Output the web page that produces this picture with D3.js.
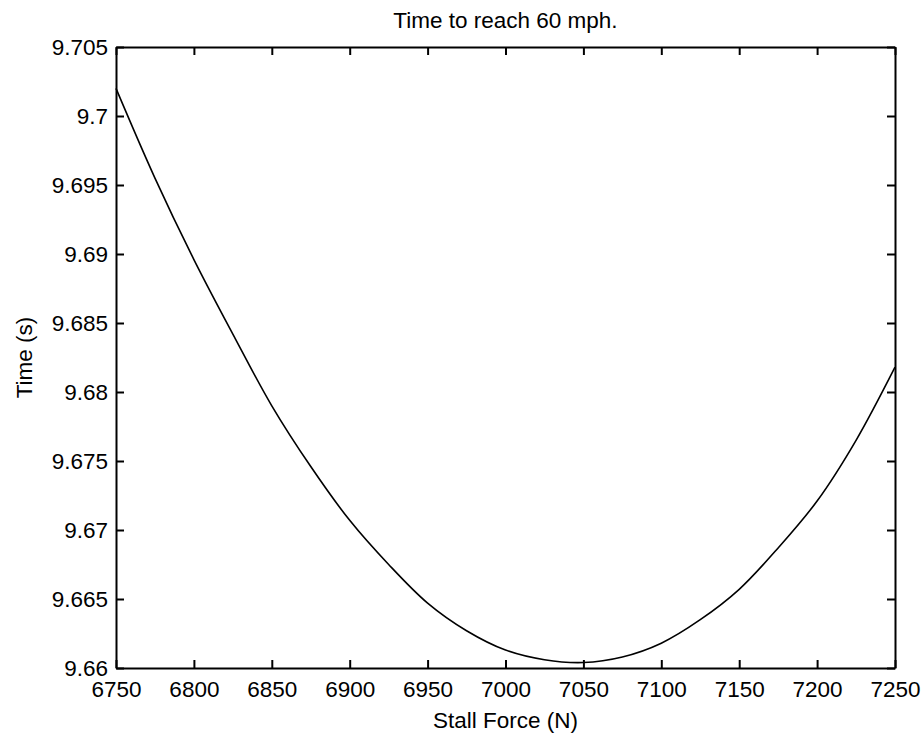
<!DOCTYPE html>
<html lang="en">
  <head>
    <meta charset="UTF-8" />
    <script src="https://cdn.jsdelivr.net/npm/d3@7"></script>
    <style>
      body { margin: 0; background: #fff; }
      text { font-family: "Liberation Sans", Arial, sans-serif; fill: #000; }
    </style>
  </head>
  <body>
    <div id="fig"></div>
    <script>
      // stall force (N) vs time to reach 60 mph (s)
      const force = [6750, 6775, 6800, 6825, 6850, 6875, 6900, 6925, 6950, 6975, 7000,
                     7025, 7050, 7075, 7100, 7125, 7150, 7175, 7200, 7225, 7250];
      const time = [9.7020, 9.6955, 9.6896, 9.6842, 9.6790, 9.6746, 9.6707, 9.6675, 9.6647, 9.6627, 9.6613,
                    9.6606, 9.6604, 9.6608, 9.6618, 9.6635, 9.6657, 9.6687, 9.6721, 9.6765, 9.6818];
      const xTicks = [6750, 6800, 6850, 6900, 6950, 7000, 7050, 7100, 7150, 7200, 7250];
      const yTicks = [9.66, 9.665, 9.67, 9.675, 9.68, 9.685, 9.69, 9.695, 9.7, 9.705];
      const yTickLabels = ["9.66", "9.665", "9.67", "9.675", "9.68", "9.685", "9.69", "9.695", "9.7", "9.705"];

      const width = 922, height = 742;
      const margins = { top: 47, right: 27, bottom: 74, left: 116 };
      const w = width - margins.left - margins.right;
      const h = height - margins.top - margins.bottom;

      const svg = d3.select("#fig").append("svg")
        .attr("width", width)
        .attr("height", height);

      const g = svg.append("g")
        .attr("transform", `translate(${margins.left},${margins.top})`);

      const x = d3.scaleLinear().domain([6750, 7250]).range([0, w]);
      const y = d3.scaleLinear().domain([9.66, 9.705]).range([h, 0]);

      const fontSize = 22.5;

      // axes (MATLAB style box, ticks pointing inward)
      const styleAxis = (sel) => {
        sel.select(".domain").attr("stroke", "#000").attr("stroke-width", 2);
        sel.selectAll(".tick line").attr("stroke", "#000").attr("stroke-width", 2);
        sel.selectAll("text").attr("font-size", fontSize).attr("font-family", null);
      };

      g.append("g")
        .attr("transform", `translate(0,${h})`)
        .call(d3.axisBottom(x).tickValues(xTicks).tickSize(-8).tickSizeOuter(0).tickPadding(13).tickFormat(d3.format("d")))
        .call(styleAxis);

      g.append("g")
        .call(d3.axisTop(x).tickValues(xTicks).tickSize(-8).tickSizeOuter(0).tickFormat(""))
        .call(styleAxis);

      g.append("g")
        .call(d3.axisLeft(y).tickValues(yTicks).tickSize(-8).tickSizeOuter(0).tickPadding(8)
          .tickFormat((d, i) => yTickLabels[i]))
        .call(styleAxis);

      g.append("g")
        .attr("transform", `translate(${w},0)`)
        .call(d3.axisRight(y).tickValues(yTicks).tickSize(-8).tickSizeOuter(0).tickFormat(""))
        .call(styleAxis);

      // the curve
      const data = force.map((f, i) => ({ f: f, t: time[i] }));
      g.append("path")
        .datum(data)
        .attr("fill", "none")
        .attr("stroke", "#000")
        .attr("stroke-width", 1.6)
        .attr("d", d3.line().x(d => x(d.f)).y(d => y(d.t)).curve(d3.curveCatmullRom));

      // labels
      svg.append("text")
        .attr("x", margins.left + w / 2)
        .attr("y", 28)
        .attr("text-anchor", "middle")
        .attr("font-size", fontSize)
        .text("Time to reach 60 mph.");

      svg.append("text")
        .attr("x", margins.left + w / 2)
        .attr("y", 728)
        .attr("text-anchor", "middle")
        .attr("font-size", fontSize)
        .text("Stall Force (N)");

      svg.append("text")
        .attr("transform", `translate(32,${margins.top + h / 2}) rotate(-90)`)
        .attr("text-anchor", "middle")
        .attr("font-size", fontSize)
        .text("Time (s)");
    </script>
  </body>
</html>
